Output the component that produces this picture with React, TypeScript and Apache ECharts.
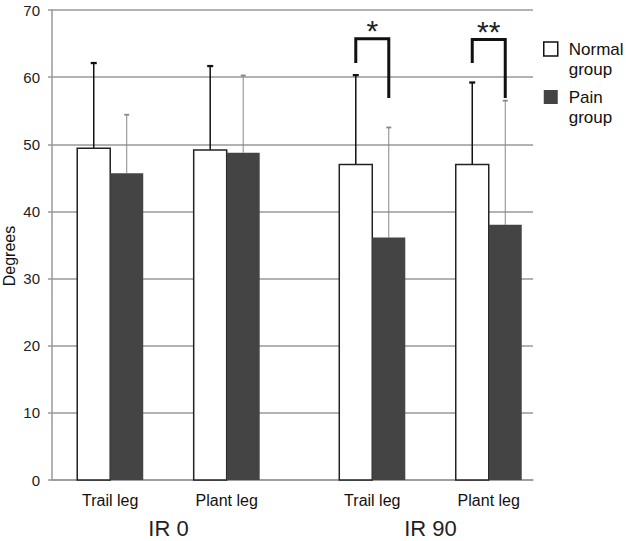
import React, { useEffect, useRef } from "react";
import * as echarts from "echarts";

const categories = ["Trail leg", "Plant leg", "Trail leg", "Plant leg"];
const groupLabels = ["IR 0", "IR 90"];
const xSlots = [1, 3, 5.5, 7.5];
const normalMean = [49.4, 49.15, 47.0, 47.0];
const normalSD = [12.7, 12.5, 13.3, 12.2];
const painMean = [45.7, 48.75, 36.1, 38.0];
const painSD = [8.7, 11.5, 16.4, 18.5];
const sigLabels = ["", "", "*", "**"];
const sigLeftY = [0, 0, 62.1, 62.1];
const sigTopY = [0, 0, 65.7, 65.6];
const sigRightY = [0, 0, 56.9, 56.9];
const yTicks = [0, 10, 20, 30, 40, 50, 60, 70];

const FONT = "'Liberation Sans', Arial, sans-serif";
const BAR_W = 33;

export default function App() {
  const ref = useRef<HTMLDivElement>(null);
  useEffect(() => {
    if (!ref.current) return;
    const chart = echarts.init(ref.current, null, { renderer: "svg" });

    const makeBarSeries = (
      name: string,
      means: number[],
      sds: number[],
      side: number,
      fill: string,
      stroke: string,
      errColor: string,
      errWidth: number,
      capW: number
    ) => ({
      type: "custom",
      name,
      z: 3,
      itemStyle: { color: fill, borderColor: stroke },
      data: xSlots.map((x, i) => [x, means[i], sds[i]]),
      renderItem: (params: any, api: any) => {
        const x = api.value(0);
        const m = api.value(1);
        const sd = api.value(2);
        const base = api.coord([x, 0]);
        const top = api.coord([x, m]);
        const et = api.coord([x, m + sd]);
        const left = side < 0 ? base[0] - BAR_W : base[0];
        const cx = left + BAR_W / 2;
        return {
          type: "group",
          children: [
            {
              type: "line",
              shape: { x1: cx, y1: top[1], x2: cx, y2: et[1] },
              style: { stroke: errColor, lineWidth: errWidth },
            },
            {
              type: "line",
              shape: { x1: cx - capW / 2, y1: et[1], x2: cx + capW / 2, y2: et[1] },
              style: { stroke: errColor, lineWidth: errWidth + 0.8 },
            },
            {
              type: "rect",
              shape: { x: left, y: top[1], width: BAR_W, height: base[1] - top[1] },
              style: { fill, stroke, lineWidth: stroke === "none" ? 0 : 1.5 },
            },
          ],
        };
      },
    });

    const option: any = {
      animation: false,
      backgroundColor: "#fff",
      grid: { left: 52, top: 10, right: 93, bottom: 61, outerBoundsMode: "none", containLabel: false },
      legend: {
        orient: "vertical",
        left: 543,
        top: 19,
        padding: 0,
        itemGap: -12,
        itemWidth: 14,
        itemHeight: 14,
        icon: "rect",
        formatter: (name: string) => "\n" + name,
        textStyle: {
          fontFamily: FONT,
          fontSize: 17,
          color: "#111",
          lineHeight: 20,
          padding: [0, 0, 0, 6],
        },
        data: [
          {
            name: "Normal\ngroup",
            itemStyle: { color: "#fff", borderColor: "#111", borderWidth: 1.5 },
          },
          { name: "Pain\ngroup", itemStyle: { color: "#444", borderWidth: 0 } },
        ],
      },
      xAxis: {
        type: "value",
        min: 0,
        max: 8.26,
        splitLine: { show: false },
        axisTick: { show: false },
        axisLine: { show: true, lineStyle: { color: "#999", width: 1.5 } },
        axisLabel: {
          show: true,
          customValues: xSlots,
          formatter: (v: number) => {
            const i = xSlots.indexOf(v);
            return i >= 0 ? categories[i] : "";
          },
          fontFamily: FONT,
          fontSize: 16,
          color: "#111",
          margin: 12,
        },
      },
      yAxis: {
        type: "value",
        min: 0,
        max: 70,
        interval: 10,
        name: "Degrees",
        nameLocation: "middle",
        nameGap: 35,
        nameMoveOverlap: false,
        nameTextStyle: {
          fontFamily: FONT,
          fontSize: 16,
          color: "#111",
          padding: [0, 22, 0, 0],
        },
        axisLine: { show: true, lineStyle: { color: "#999", width: 1.5 } },
        axisTick: { show: true, length: 4, lineStyle: { color: "#999", width: 1.5 } },
        axisLabel: {
          fontFamily: FONT,
          fontSize: 15,
          color: "#222",
          margin: 12,
          formatter: (v: number) => (yTicks.includes(v) ? String(v) : ""),
        },
        splitLine: { show: true, lineStyle: { color: "#999", width: 1.5 } },
      },
      series: [
        makeBarSeries("Normal\ngroup", normalMean, normalSD, -1, "#fff", "#222", "#111", 1.5, 6),
        makeBarSeries("Pain\ngroup", painMean, painSD, 1, "#444", "none", "#888", 1, 5),
        {
          type: "custom",
          name: "sig",
          z: 4,
          silent: true,
          data: xSlots
            .map((x, i) => [x, sigLeftY[i], sigTopY[i], sigRightY[i], i])
            .filter((d) => sigLabels[d[4] as number] !== ""),
          renderItem: (params: any, api: any) => {
            const x = api.value(0);
            const i = api.value(4);
            const pl = api.coord([x, api.value(1)]);
            const pt = api.coord([x, api.value(2)]);
            const pr = api.coord([x, api.value(3)]);
            const lx = pl[0] - BAR_W / 2;
            const rx = pl[0] + BAR_W / 2;
            return {
              type: "group",
              children: [
                {
                  type: "polyline",
                  shape: {
                    points: [
                      [lx, pl[1]],
                      [lx, pt[1]],
                      [rx, pt[1]],
                      [rx, pr[1]],
                    ],
                  },
                  style: { stroke: "#111", lineWidth: 3, fill: "none" },
                },
                {
                  type: "text",
                  x: pl[0],
                  y: pt[1] + 7,
                  style: {
                    text: sigLabels[i],
                    fontFamily: FONT,
                    fontSize: 30,
                    fill: "#222",
                    align: "center",
                    verticalAlign: "bottom",
                  },
                },
              ],
            };
          },
        },
        {
          type: "custom",
          name: "groups",
          silent: true,
          data: [
            [(xSlots[0] + xSlots[1]) / 2, 0],
            [(xSlots[2] + xSlots[3]) / 2, 1],
          ],
          renderItem: (params: any, api: any) => {
            const p = api.coord([api.value(0), 0]);
            return {
              type: "text",
              x: p[0],
              y: p[1] + 48,
              style: {
                text: groupLabels[api.value(1)],
                fontFamily: FONT,
                fontSize: 22,
                fill: "#222",
                align: "center",
                verticalAlign: "middle",
              },
            };
          },
        },
      ],
    };
    chart.setOption(option);
    return () => chart.dispose();
  }, []);
  return (
    <div
      ref={ref}
      style={{ position: "fixed", left: 0, top: 0, width: 626, height: 541 }}
    />
  );
}
